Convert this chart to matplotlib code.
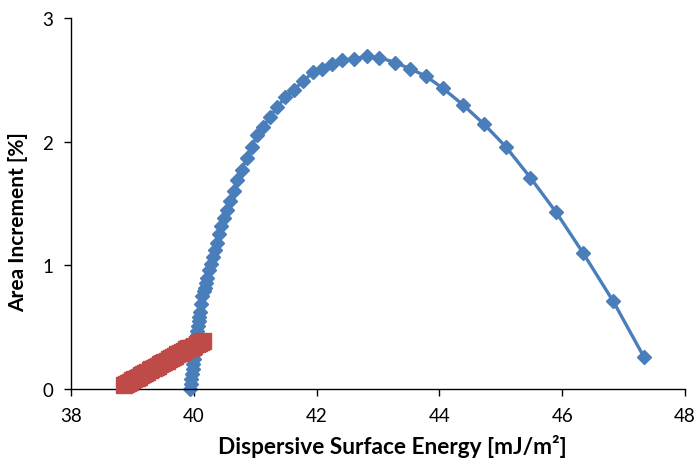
import matplotlib
matplotlib.use("Agg")
import matplotlib.pyplot as plt

# Blue series (diamonds)
blue_x = [39.94, 39.95, 39.96, 39.97, 39.98, 39.99, 40.00, 40.01, 40.02, 40.03,
          40.04, 40.05, 40.06, 40.07, 40.08, 40.09, 40.10, 40.12, 40.14, 40.16,
          40.18, 40.20, 40.22, 40.25, 40.28, 40.31, 40.34, 40.37, 40.41, 40.45,
          40.49, 40.54, 40.59, 40.65, 40.71, 40.78, 40.86, 40.94, 41.03, 41.13,
          41.24, 41.36, 41.49, 41.63, 41.78, 41.94, 42.09, 42.25, 42.41, 42.61,
          42.82, 43.02, 43.28, 43.52, 43.78, 44.06, 44.38, 44.73, 45.08, 45.48,
          45.90, 46.34, 46.83, 47.33]
blue_y = [0.00, 0.04, 0.08, 0.12, 0.16, 0.20, 0.24, 0.28, 0.32, 0.36,
          0.40, 0.44, 0.47, 0.51, 0.55, 0.58, 0.62, 0.69, 0.75, 0.79,
          0.82, 0.86, 0.90, 0.96, 1.01, 1.07, 1.12, 1.18, 1.25, 1.32,
          1.38, 1.45, 1.52, 1.60, 1.69, 1.77, 1.87, 1.96, 2.05, 2.12,
          2.20, 2.28, 2.36, 2.42, 2.49, 2.56, 2.59, 2.63, 2.66, 2.67,
          2.69, 2.68, 2.64, 2.59, 2.53, 2.43, 2.30, 2.14, 1.96, 1.71,
          1.43, 1.10, 0.71, 0.26]

# Red series (squares)
red_x = [38.86, 38.89, 38.93, 38.96, 39.00, 39.03, 39.07, 39.10, 39.14, 39.17,
         39.21, 39.24, 39.28, 39.31, 39.35, 39.38, 39.42, 39.45, 39.49, 39.52,
         39.56, 39.59, 39.63, 39.66, 39.70, 39.73, 39.77, 39.80, 39.84, 39.87,
         39.91, 39.94, 39.98, 40.01, 40.05, 40.08, 40.12, 40.15]
red_y = [0.03, 0.04, 0.05, 0.06, 0.07, 0.08, 0.09, 0.10, 0.11, 0.12,
         0.13, 0.14, 0.15, 0.16, 0.17, 0.18, 0.19, 0.20, 0.21, 0.22,
         0.23, 0.24, 0.25, 0.26, 0.27, 0.28, 0.29, 0.30, 0.31, 0.32,
         0.33, 0.33, 0.34, 0.35, 0.36, 0.37, 0.38, 0.39]

x_ticks = [38, 40, 42, 44, 46, 48]
y_ticks = [0, 1, 2, 3]

plt.rcParams['font.family'] = ['Lato', 'DejaVu Sans']

fig = plt.figure(figsize=(6.99, 4.60), dpi=100)
ax = fig.add_axes([71/699, 1-390/460, (685-71)/699, (390-19)/460])

ax.plot(blue_x, blue_y, color='#4A7EBB', lw=2.4, marker='D', ms=7,
        markerfacecolor='#4A7EBB', markeredgecolor='#4A7EBB', clip_on=False, zorder=2)
ax.plot(red_x, red_y, color='#BE4B48', lw=0, marker='s', ms=11,
        markerfacecolor='#BE4B48', markeredgecolor='#BE4B48', clip_on=False, zorder=3)

ax.set_xlim(38, 48)
ax.set_ylim(0, 3)
ax.set_xticks(x_ticks)
ax.set_yticks(y_ticks)
ax.set_xticklabels([str(v) for v in x_ticks])
ax.set_yticklabels([str(v) for v in y_ticks])
ax.tick_params(axis='both', direction='out', length=5, width=1, labelsize=13.5, pad=8)
ax.spines['top'].set_visible(False)
ax.spines['right'].set_visible(False)
ax.spines['left'].set_linewidth(1)
ax.spines['bottom'].set_linewidth(1)

ax.set_xlabel('Dispersive Surface Energy [mJ/m²]', fontsize=16.3, fontweight='bold')
ax.set_ylabel('Area Increment [%]', fontsize=15, fontweight='bold')
ax.xaxis.set_label_coords(0.523, -0.122)
ax.yaxis.set_label_coords(-0.070, 0.453)

fig.savefig('out.png', dpi=100)
